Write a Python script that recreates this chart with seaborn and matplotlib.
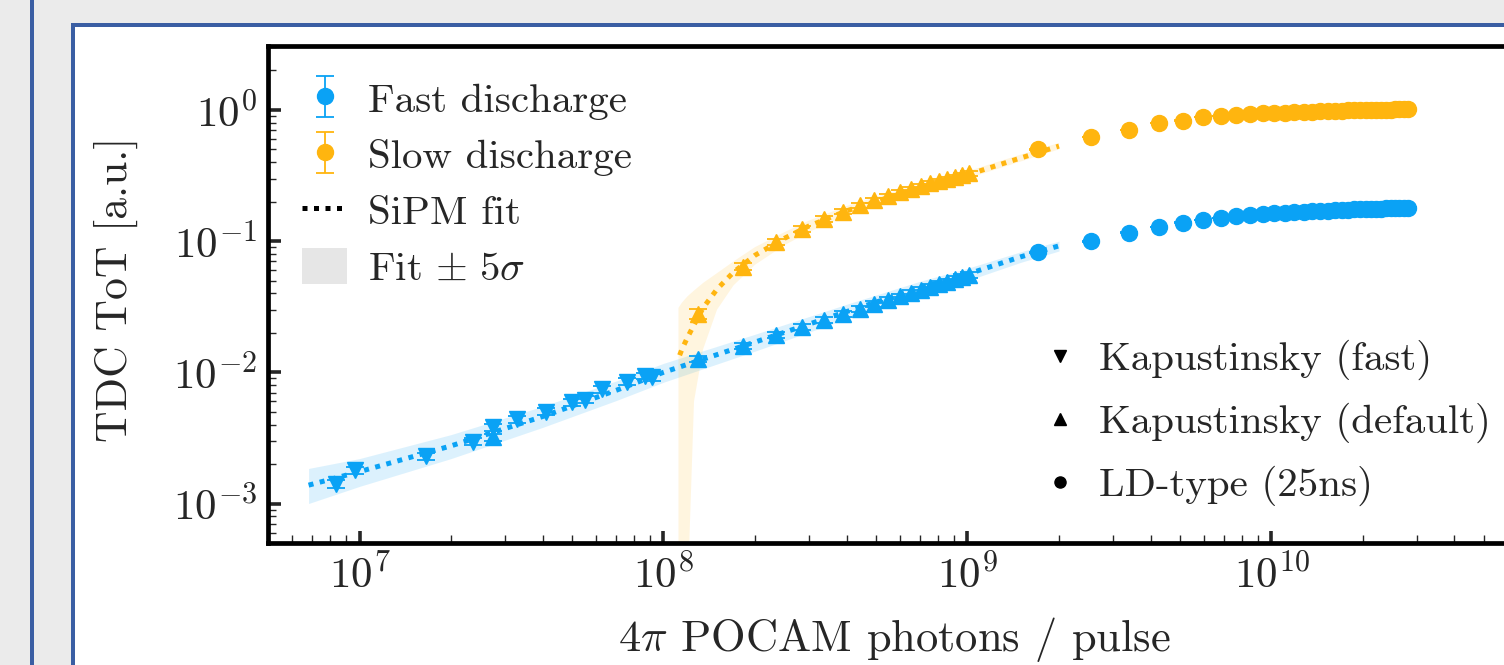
import matplotlib.pyplot as plt
import numpy as np
import seaborn as sns
from matplotlib.lines import Line2D
from matplotlib.patches import Patch, Rectangle

# ---- data (x: photons / pulse, y: TDC ToT in a.u.) ----
# Fast discharge, Kapustinsky (fast) pulses
fast_kfast_x = [8.4e6, 9.7e6, 1.65e7, 2.36e7, 2.75e7, 3.3e7, 4.1e7, 5.0e7, 5.5e7, 6.3e7, 7.6e7, 8.7e7, 9.2e7]
fast_kfast_y = [1.41e-3, 1.80e-3, 2.30e-3, 2.96e-3, 3.80e-3, 4.40e-3, 5.00e-3, 5.90e-3, 6.20e-3, 7.40e-3, 8.50e-3, 9.40e-3, 9.20e-3]
fast_kfast_err = [0.09e-3, 0.11e-3, 0.14e-3, 0.18e-3, 0.22e-3, 0.26e-3, 0.30e-3, 0.35e-3, 0.37e-3, 0.44e-3, 0.50e-3, 0.56e-3, 0.55e-3]

# Fast discharge, Kapustinsky (default) pulses
fast_kdef_x = [2.75e7, 1.30e8, 1.82e8, 2.34e8, 2.86e8, 3.38e8, 3.90e8, 4.42e8, 4.94e8, 5.46e8,
               5.98e8, 6.50e8, 7.02e8, 7.54e8, 8.06e8, 8.58e8, 9.10e8, 9.62e8, 1.014e9]
fast_kdef_y = [3.2e-3, 1.26e-2, 1.60e-2, 1.92e-2, 2.22e-2, 2.51e-2, 2.78e-2, 3.05e-2, 3.30e-2, 3.55e-2,
               3.79e-2, 4.02e-2, 4.25e-2, 4.48e-2, 4.70e-2, 4.92e-2, 5.13e-2, 5.34e-2, 5.55e-2]
fast_kdef_err = [0.18e-3, 0.7e-3, 0.85e-3, 1.0e-3, 1.15e-3, 1.3e-3, 1.4e-3, 1.55e-3, 1.65e-3, 1.8e-3,
                 1.9e-3, 2.0e-3, 2.1e-3, 2.2e-3, 2.35e-3, 2.45e-3, 2.55e-3, 2.65e-3, 2.75e-3]

# Slow discharge, Kapustinsky (default) pulses
slow_kdef_x = [1.30e8, 1.82e8, 2.34e8, 2.86e8, 3.38e8, 3.90e8, 4.42e8, 4.94e8, 5.46e8,
               5.98e8, 6.50e8, 7.02e8, 7.54e8, 8.06e8, 8.58e8, 9.10e8, 9.62e8, 1.014e9]
slow_kdef_y = [0.028, 0.064, 0.098, 0.124, 0.148, 0.168, 0.188, 0.205, 0.221,
               0.236, 0.250, 0.263, 0.275, 0.287, 0.298, 0.309, 0.319, 0.329]
slow_kdef_err = [0.0025, 0.004, 0.005, 0.006, 0.007, 0.0075, 0.008, 0.0085, 0.009,
                 0.0095, 0.010, 0.010, 0.011, 0.011, 0.012, 0.012, 0.012, 0.013]

# LD-type (25ns) pulses, both discharge settings
ld_x = [1.7e9, 2.55e9, 3.4e9, 4.25e9, 5.1e9, 5.95e9, 6.8e9, 7.65e9, 8.5e9, 9.35e9, 1.02e10,
        1.105e10, 1.19e10, 1.275e10, 1.36e10, 1.445e10, 1.53e10, 1.615e10, 1.7e10, 1.785e10,
        1.87e10, 1.955e10, 2.04e10, 2.125e10, 2.21e10, 2.295e10, 2.38e10, 2.465e10, 2.55e10,
        2.635e10, 2.72e10, 2.805e10]
fast_ld_y = [0.082, 0.100, 0.116, 0.128, 0.138, 0.145, 0.150, 0.155, 0.158, 0.161, 0.163,
             0.165, 0.167, 0.168, 0.169, 0.170, 0.171, 0.172, 0.173, 0.174, 0.175, 0.175,
             0.176, 0.176, 0.177, 0.177, 0.178, 0.178, 0.179, 0.179, 0.180, 0.180]
slow_ld_y = [0.50, 0.62, 0.70, 0.79, 0.83, 0.88, 0.90, 0.915, 0.93, 0.94, 0.95, 0.955,
             0.96, 0.965, 0.97, 0.975, 0.98, 0.98, 0.985, 0.99, 0.99, 0.995, 0.995, 1.0,
             1.0, 1.0, 1.005, 1.005, 1.01, 1.01, 1.01, 1.015]
ld_err = 0.001

# SiPM fits with +-5 sigma bands
fast_fit_x = [6.8e6, 1e7, 2e7, 4e7, 7e7, 1e8, 2e8, 4e8, 7e8, 1e9, 1.5e9, 2e9]
fast_fit_y = [1.38e-3, 1.75e-3, 2.75e-3, 4.6e-3, 7.3e-3, 1.0e-2, 1.7e-2, 2.9e-2, 4.4e-2, 5.6e-2, 7.6e-2, 9.2e-2]
fast_fit_lo = [1.0e-3, 1.35e-3, 2.2e-3, 3.8e-3, 6.1e-3, 8.4e-3, 1.45e-2, 2.55e-2, 3.9e-2, 5.0e-2, 6.9e-2, 8.4e-2]
fast_fit_hi = [1.85e-3, 2.2e-3, 3.35e-3, 5.5e-3, 8.6e-3, 1.17e-2, 1.95e-2, 3.3e-2, 4.95e-2, 6.2e-2, 8.3e-2, 1.0e-1]

slow_fit_x = [1.13e8, 1.15e8, 1.2e8, 1.26e8, 1.35e8, 1.5e8, 1.7e8, 2.0e8, 2.5e8, 3.0e8, 4.0e8,
              5.5e8, 7.5e8, 1.0e9, 1.4e9, 2.0e9]
slow_fit_y = [0.0135, 0.0150, 0.0185, 0.023, 0.031, 0.043, 0.058, 0.078, 0.105, 0.13, 0.17,
              0.215, 0.265, 0.32, 0.41, 0.53]
slow_band_x = [1.12e8, 1.15e8, 1.2e8, 1.26e8, 1.35e8, 1.5e8, 1.7e8, 2.0e8, 2.5e8, 3.0e8, 4.0e8,
               5.5e8, 7.5e8, 1.0e9, 1.4e9, 2.0e9]
slow_fit_lo = [1e-6, 1e-6, 2e-4, 0.006, 0.015, 0.030, 0.046, 0.066, 0.093, 0.117, 0.155,
               0.198, 0.245, 0.30, 0.385, 0.50]
slow_fit_hi = [0.031, 0.034, 0.038, 0.042, 0.048, 0.057, 0.070, 0.090, 0.117, 0.143, 0.185,
               0.232, 0.285, 0.34, 0.435, 0.56]

BLUE = "#0aa2f5"
ORANGE = "#ffb50f"

sns.set_style("ticks")
plt.rcParams["font.family"] = "serif"
plt.rcParams["font.serif"] = ["cmr10"]
plt.rcParams["mathtext.fontset"] = "cm"
plt.rcParams["axes.formatter.use_mathtext"] = True
plt.rcParams["axes.unicode_minus"] = False

W, H = 1504, 665
fig = plt.figure(figsize=(W / 100, H / 100), dpi=100, facecolor="#ebebeb")

# screenshot frame: outer blue rule and the white panel with a blue border
fig.patches.append(Rectangle((30 / W, 0), 4 / W, 1, transform=fig.transFigure,
                             facecolor="#3a5ea3", edgecolor="none", zorder=-10))
fig.patches.append(Rectangle((71 / W, 0), 1, 1 - 23 / H, transform=fig.transFigure,
                             facecolor="#3a5ea3", edgecolor="none", zorder=-10))
fig.patches.append(Rectangle((75 / W, 0), 1, 1 - 27 / H, transform=fig.transFigure,
                             facecolor="white", edgecolor="none", zorder=-9))

# axes run past the right edge of the screenshot
ax = fig.add_axes([268 / W, 1 - 543 / H, 1278 / W, 497 / H])
ax.set_xscale("log")
ax.set_yscale("log")

# bands
ax.fill_between(fast_fit_x, fast_fit_lo, fast_fit_hi, color=BLUE, alpha=0.14, lw=0, zorder=1)
ax.fill_between(slow_band_x, slow_fit_lo, slow_fit_hi, color=ORANGE, alpha=0.13, lw=0, zorder=1)

# fit lines
for fx, fy, col in [(fast_fit_x, fast_fit_y, BLUE), (slow_fit_x, slow_fit_y, ORANGE)]:
    sns.lineplot(x=fx, y=fy, ax=ax, color=col, lw=3.6, dashes=(1, 1.3), zorder=2,
                 estimator=None, sort=False)

eb_kw = dict(linestyle="none", capsize=6.5, elinewidth=1.3, capthick=1.3, zorder=3)
ax.errorbar(fast_kfast_x, fast_kfast_y, yerr=fast_kfast_err, fmt="v", ms=12, color=BLUE, **eb_kw)
ax.errorbar(fast_kdef_x, fast_kdef_y, yerr=fast_kdef_err, fmt="^", ms=12, color=BLUE, **eb_kw)
ax.errorbar(slow_kdef_x, slow_kdef_y, yerr=slow_kdef_err, fmt="^", ms=12, color=ORANGE, **eb_kw)
h_fast = ax.errorbar(ld_x, fast_ld_y, yerr=ld_err, fmt="o", ms=11.5, color=BLUE, **eb_kw)
h_slow = ax.errorbar(ld_x, slow_ld_y, yerr=ld_err, fmt="o", ms=11.5, color=ORANGE, **eb_kw)

ax.set_xlim(5e6, 8e10)
ax.set_ylim(5e-4, 3.07)

for s in ax.spines.values():
    s.set_linewidth(3.4)
    s.set_color("black")
ax.tick_params(which="major", direction="in", length=9, width=2.6, labelsize=31, pad=8,
               top=False, right=False)
ax.tick_params(which="minor", direction="in", length=6, width=1.0, top=False, right=False)

ax.set_xlabel(r"$4\pi$ POCAM photons / pulse", fontsize=32)
ax.xaxis.set_label_coords(0.49, -0.145)
ax.set_ylabel("TDC ToT [a.u.]", fontsize=31.5)
ax.yaxis.set_label_coords(-0.102, 0.51)

# legend of discharge settings
leg1_handles = [h_fast, h_slow,
                Line2D([], [], color="black", lw=3.6, dashes=(1, 1.3)),
                Patch(facecolor="#e6e6e6", edgecolor="none")]
leg1_labels = ["Fast discharge", "Slow discharge", "SiPM fit", r"Fit $\pm\ 5\sigma$"]
leg1 = ax.legend(leg1_handles, leg1_labels, loc="upper left", frameon=False, fontsize=29.5,
                 bbox_to_anchor=(302 / W, 1 - 80 / H), bbox_transform=fig.transFigure,
                 borderpad=0, borderaxespad=0, handlelength=1.1, handletextpad=0.5,
                 labelspacing=0.38, handleheight=1.0)
ax.add_artist(leg1)

# legend of pulse types
leg2_handles = [Line2D([], [], ls="none", marker=m, color="black", ms=8) for m in ["v", "^", "o"]]
leg2_labels = ["Kapustinsky (fast)", "Kapustinsky (default)", "LD-type (25ns)"]
ax.legend(leg2_handles, leg2_labels, loc="upper left", frameon=False, fontsize=29.5,
          bbox_to_anchor=(1040 / W, 1 - 340 / H), bbox_transform=fig.transFigure,
          borderpad=0, borderaxespad=0, handlelength=1.0, handletextpad=0.45,
          labelspacing=0.55)

fig.savefig("out.png", dpi=100, facecolor=fig.get_facecolor())
